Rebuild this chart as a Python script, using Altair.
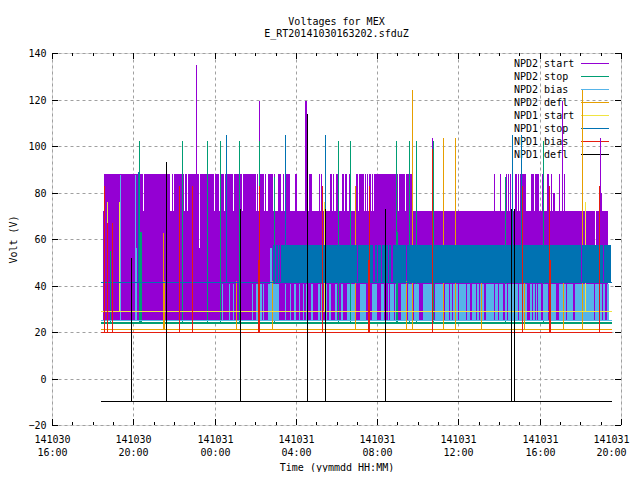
import json
import altair as alt
import pandas as pd

# Time is in hours after 141030 16:00, voltage in volts.
x_ticks = [0, 4, 8, 12, 16, 20, 24, 28]
x_minor = [h for h in range(0, 29) if h % 4]
tick_texts = ["141030|16:00", "141030|20:00", "141031|00:00", "141031|04:00",
              "141031|08:00", "141031|12:00", "141031|16:00", "141031|20:00"]
y_ticks = [-20, 0, 20, 40, 60, 80, 100, 120, 140]
names = ["NPD2 start", "NPD2 stop", "NPD2 bias", "NPD2 defl",
         "NPD1 start", "NPD1 stop", "NPD1 bias", "NPD1 defl"]
colors = ["#9400d3", "#009e73", "#56b4e9", "#e69f00",
          "#f0e442", "#0072b2", "#e51e10", "#000000"]
T0, T1 = 2.41, 27.56

# (t start, t end) occupied spans
npd2_start_high = [(2.56,4.48),(4.53,5.83),(5.91,5.95),(6.00,6.50),(6.55,6.64),(6.69,7.21),(7.28,7.95),
    (8.02,8.22),(8.27,8.46),(8.51,8.91),(8.96,9.35),(9.40,10.04),(10.09,10.14),(10.24,10.43),(10.48,10.53),
    (10.63,10.88),(10.92,10.97),(11.12,11.27),(11.37,11.42),(11.47,11.71),(11.96,12.06),(12.65,12.79),
    (13.14,13.19),(13.24,13.29),(13.68,13.78),(13.83,13.88),(13.98,14.12),(14.27,14.37),(14.42,14.52),
    (14.62,14.66),(14.96,15.06),(15.11,15.35),(15.40,15.45),(15.50,15.55),(15.60,15.70),(15.75,15.82),
    (15.85,17.03),(17.08,17.37),(17.42,17.72),(21.75,21.80),(22.05,22.09),(22.34,22.39),(22.44,22.49),
    (22.54,22.58),(22.64,22.68),(22.78,22.88),(22.93,22.98),(23.03,23.32),(23.57,23.72),(23.77,23.96),
    (24.11,24.21),(24.36,24.46),(24.56,24.60),(24.95,25.00),(25.19,25.24)]
npd2_start_mid = [(24.65,24.75),(26.97,27.07)]
npd2_start_peak = [(12.45,12.55)]
npd2_start_upper = [(2.51,7.21),(7.28,26.72),(26.77,27.36)]
npd2_start_lower = [(2.51,27.36)]
npd2_start_spikes = [(7.11,135),(10.19,119.4),(18.70,103.4),(25.12,119.4),(26.99,103.4)]

npd2_stop_spikes = [(4.28,102),(6.42,102),(7.63,102),(8.27,102),(9.20,102),(10.19,102),(10.92,86.6),
    (14.05,102),(14.66,102),(16.95,102),(17.59,102),(17.89,102),(18.77,102),(22.27,86.6),(24.16,102),
    (2.85,55),(4.33,63),(4.38,63),(17.00,63)]

npd2_bias_tall = [(4.08,4.18),(10.73,10.83)]
npd2_bias_spans = [(8.36,8.41),(8.71,8.76),(8.93,8.98),(9.84,9.89),(10.04,10.14),(10.24,10.33),(10.38,10.43),
    (10.63,10.73),(10.88,11.17),(11.47,11.51),(11.71,11.76),(11.91,12.01),(12.15,12.20),(12.35,12.40),
    (12.50,12.60),(12.75,12.84),(13.09,13.19),(13.24,13.29),(13.43,13.53),(13.63,13.73),(13.93,14.02),
    (14.22,14.32),(14.52,14.66),(14.71,14.91),(15.16,15.45),(15.75,15.99),(16.19,16.34),(16.53,16.58),
    (16.63,16.83),(16.88,16.93),(17.17,17.42),(17.52,17.72),(17.81,18.06),(18.26,18.70),(18.85,19.24),
    (19.34,19.53),(19.58,19.68),(19.73,19.83),(19.88,19.98),(20.03,20.37),(20.42,20.57),(20.67,20.86),
    (20.91,21.01),(21.06,21.26),(21.36,21.75),(21.80,21.95),(22.00,22.19),(22.29,22.39),(22.44,22.58),
    (22.64,22.73),(22.78,22.93),(22.98,23.13),(23.18,23.37),(23.52,23.62),(23.67,23.77),(23.82,23.87),
    (23.92,24.06),(24.16,24.41),(24.51,24.80),(24.95,25.29),(25.34,25.64),(25.73,26.67),(26.72,27.07),
    (27.12,27.21),(27.31,27.41)]
npd2_bias_spikes = [(3.36,87.5),(4.10,87.5)]

npd2_defl_thick = [(5.44,5.54)]
npd2_defl_spikes = [(5.48,62.6),(10.83,42),(14.92,83),(17.43,42),(17.73,124),(19.25,103.4),(19.84,103.4),
    (21.11,42),(23.23,42),(25.15,42),(26.10,124),(9.05,42)]

npd1_start_spikes = [(2.72,76),(3.31,76),(13.40,76),(26.24,76)]

npd1_stop_spans = [(10.88,10.95),(11.00,11.14),(11.19,11.24),(11.29,11.64),(11.68,15.03),(15.08,15.38),
    (15.42,15.82),(15.87,15.97),(16.02,16.21),(16.26,16.41),(16.46,16.51),(16.56,16.70),(16.78,17.20),
    (17.24,17.44),(17.49,26.05),(26.10,26.70),(26.74,27.09),(27.14,27.51)]
npd1_stop_spikes = [(8.54,104.7),(11.47,104.7),(13.43,104.7),(22.66,104.7),(23.10,104.7),(4.21,89)]

npd1_bias_thick = [(10.14,10.24),(15.55,15.65),(24.44,24.54)]
npd1_bias_spikes = [(2.57,82.8),(2.72,67),(2.95,67),(6.26,82.8),(6.90,82.8),(10.17,82.8),(13.29,82.8),
    (15.60,82.8),(18.71,98.7),(23.13,82.8),(24.47,82.8),(26.93,82.8)]

npd1_defl_spikes = [(3.91,52),(5.61,93),(9.23,73),(12.55,113.7),(13.43,73),(16.39,73),(22.61,73),(22.73,73)]

# per-series: baselines, spans [(list, low, high)], spikes, spike base
series = [
    ([], [(npd2_start_lower,25,56),(npd2_start_upper,56,72),(npd2_start_high,72,88),
          (npd2_start_mid,72,80),(npd2_start_peak,72,119.4)], npd2_start_spikes, 70),
    ([24.3,23.9], [], npd2_stop_spikes, 24.3),
    ([25.2], [(npd2_bias_spans,25.2,40.6),(npd2_bias_tall,25.2,56)], npd2_bias_spikes, 25.2),
    ([21.3], [(npd2_defl_thick,21.3,42)], npd2_defl_spikes, 21.3),
    ([29], [], npd1_start_spikes, 29),
    ([41.5], [(npd1_stop_spans,41,57.6)], npd1_stop_spikes, 41.5),
    ([20], [(npd1_bias_thick,20,51)], npd1_bias_spikes, 20),
    ([-9.7], [], npd1_defl_spikes, -9.7),
]

x_scale = alt.Scale(domain=[0, 28], nice=False, zero=False, round=True)
y_scale = alt.Scale(domain=[-20, 140], nice=False, zero=False, round=True)
FONT = "DejaVu Sans Mono"
labels_js = json.dumps(tick_texts, ensure_ascii=True)
x_axis = alt.Axis(values=x_ticks, grid=True, gridDash=[3, 3], gridColor="#a0a0a0", gridOpacity=1, ticks=False,
                  domain=False, labelExpr=f"split({labels_js}[indexof({json.dumps(x_ticks)}, datum.value)], '|')",
                  labelFont=FONT, labelFontSize=10, labelColor="black", labelPadding=9, labelLineHeight=13,
                  labelFlush=False, labelOverlap=False, labelBound=False, labelAngle=0,
                  labelOffset=alt.expr("datum.value == 28 ? -10 : 0"),
                  title="Time (yymmdd HH:MM)", titleFont=FONT, titleFontSize=10, titleFontWeight="normal",
                  titlePadding=5, titleColor="black")
y_axis = alt.Axis(values=y_ticks, grid=True, gridDash=[3, 3], gridColor="#a0a0a0", gridOpacity=1, ticks=False,
                  domain=False, labelFont=FONT, labelFontSize=10, labelColor="black", labelPadding=6,
                  title="Volt (V)", titleFont=FONT, titleFontSize=10, titleFontWeight="normal",
                  titlePadding=9, titleColor="black")
X = lambda f: alt.X(f"{f}:Q", scale=x_scale, axis=x_axis)
Y = lambda f: alt.Y(f"{f}:Q", scale=y_scale, axis=y_axis)


def v_rules(rows, color, width=1):
    return alt.Chart(pd.DataFrame(rows, columns=["t", "a", "b"])).mark_rule(
        color=color, strokeWidth=width, xOffset=0.5).encode(
        x=X("t"), y=Y("a"), y2="b:Q")


def h_rules(rows, color):
    return alt.Chart(pd.DataFrame(rows, columns=["a", "b", "v"])).mark_rule(
        color=color, strokeWidth=1, yOffset=0.5).encode(
        x=X("a"), x2="b:Q", y=Y("v"))


dummy = pd.DataFrame({"t": [0, 28], "v": [-20, 140]})
axis_layer = alt.Chart(dummy).mark_point(opacity=0).encode(x=X("t"), y=Y("v"))
layers = [axis_layer]

# legend (drawn under the data)
for i, (name, color) in enumerate(zip(names, colors)):
    row_y = 10.5 + 13 * i
    layers.append(alt.Chart(dummy).mark_rule(strokeWidth=1, color=color).encode(
        x=alt.value(529), x2=alt.value(557), y=alt.value(row_y)))
    layers.append(alt.Chart(pd.DataFrame({"name": [name]})).mark_text(
        align="left", baseline="middle", font=FONT, fontSize=10, color="black").encode(
        x=alt.value(462), y=alt.value(row_y), text="name:N"))

for (bases, blocks, spikes, base), color in zip(series, colors):
    rect_rows = [(a, b, lo, hi) for spans, lo, hi in blocks for a, b in spans]
    if rect_rows:
        layers.append(alt.Chart(pd.DataFrame(rect_rows, columns=["a", "b", "lo", "hi"])).mark_rect(color=color).encode(
            x=X("a"), x2="b:Q", y=Y("lo"), y2="hi:Q"))
    layers.append(v_rules([(t, base, top) for t, top in spikes], color))
    if bases:
        layers.append(h_rules([(T0, T1, v) for v in bases], color))

# gnuplot style inward tics on all four sides
tx = [(t, -20, -17.4) for t in x_ticks] + [(t, 140, 137.4) for t in x_ticks] + \
     [(t, -20, -18.7) for t in x_minor] + [(t, 140, 138.7) for t in x_minor]
ty = [(0, 0.295, v) for v in y_ticks] + [(27.705, 28, v) for v in y_ticks]
layers.append(v_rules(tx, "black"))
layers.append(h_rules(ty, "black"))

chart = alt.layer(*layers).properties(
    width=569, height=372,
    padding={"left": 44, "top": 45, "right": 11, "bottom": 47},
    autosize=alt.AutoSizeParams(type="none"),
    title=alt.TitleParams(["Voltages for MEX", "E_RT20141030163202.sfduZ"], font=FONT, fontSize=10,
                          fontWeight="normal", color="black", lineHeight=12, offset=9, anchor="middle"),
).configure_view(stroke="black", strokeWidth=1).configure(background="white")

chart.save("out.html", embed_options={"renderer": "svg", "actions": False})
